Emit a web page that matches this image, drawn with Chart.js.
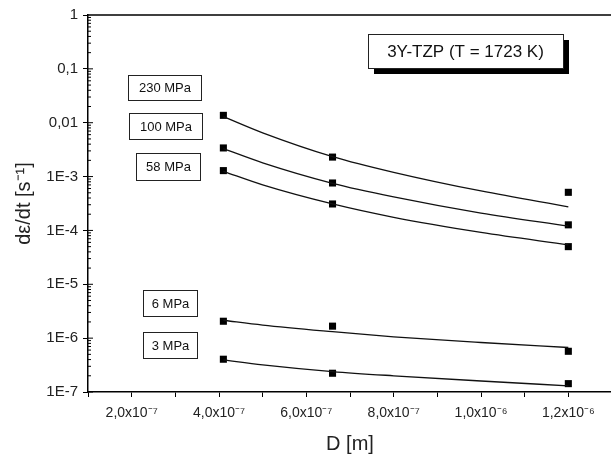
<!DOCTYPE html>
<html>
<head>
<meta charset="utf-8">
<script src="https://cdn.jsdelivr.net/npm/chart.js@4"></script>
<style>
body { margin: 0; overflow: hidden; background: #fff; }
#wrap { width: 620px; height: 456px; }
</style>
</head>
<body>
<div id="wrap"><canvas id="chart" width="620" height="456"></canvas></div>
<script>
// grain size D [m] of the measured points
const diameters = [4.1e-7, 6.6e-7, 1.2e-6];
// strain rates
const rate230 = [1.37e-2, 2.3e-3, 5.1e-4];
const rate100 = [3.4e-3, 7.6e-4, 1.27e-4];
const rate58 = [1.29e-3, 3.1e-4, 5.0e-5];
const rate6 = [2.06e-6, 1.67e-6, 5.7e-7];
const rate3 = [4.06e-7, 2.23e-7, 1.43e-7];

// fitted curves, read at a few grain sizes
const fitD = [4.1e-7, 5e-7, 6.6e-7, 8e-7, 1e-6, 1.2e-6];
const fit230 = [1.3e-2, 6.5e-3, 2.35e-3, 1.2e-3, 5.4e-4, 2.75e-4];
const fit100 = [3.3e-3, 1.8e-3, 7.5e-4, 4.2e-4, 2.1e-4, 1.2e-4];
const fit58 = [1.25e-3, 7.0e-4, 3.1e-4, 1.75e-4, 9.2e-5, 5.4e-5];
const fit6 = [2.15e-6, 1.75e-6, 1.32e-6, 1.06e-6, 8.3e-7, 6.7e-7];
const fit3 = [3.95e-7, 3.2e-7, 2.4e-7, 2.0e-7, 1.6e-7, 1.3e-7];

const stressLabels = ['230 MPa', '100 MPa', '58 MPa', '6 MPa', '3 MPa'];
const titleText = '3Y-TZP (T = 1723 K)';

const xTicks = [1e-7, 2e-7, 3e-7, 4e-7, 5e-7, 6e-7, 7e-7, 8e-7, 9e-7, 1e-6, 1.1e-6, 1.2e-6, 1.3e-6];
const xTickLabels = ['', '2,0x10\u207B\u2077', '', '4,0x10\u207B\u2077', '', '6,0x10\u207B\u2077', '',
  '8,0x10\u207B\u2077', '', '1,0x10\u207B\u2076', '', '1,2x10\u207B\u2076', ''];
const yTicks = [1e-7, 1e-6, 1e-5, 1e-4, 1e-3, 1e-2, 1e-1, 1];
const yTickLabels = ['1E-7', '1E-6', '1E-5', '1E-4', '1E-3', '0,01', '0,1', '1'];

// label boxes, pixel boxes [x, y, w, h]
const boxPos = [[128, 75, 73, 25], [129, 113, 73, 26], [136, 153, 64, 27], [143, 290, 54, 26], [143, 332, 54, 26]];

function pts(xs, ys) {
  return xs.map((x, i) => ({ x: x, y: ys[i] }));
}
function idx(arr, v) {
  return arr.findIndex(a => Math.abs(a - v) < Math.abs(v) * 1e-6);
}

const font = 'Liberation Sans, Arial, sans-serif';

const fits = [fit230, fit100, fit58, fit6, fit3].map(f => ({
  type: 'line', data: pts(fitD, f), borderColor: '#111', borderWidth: 1.3,
  pointRadius: 0, cubicInterpolationMode: 'monotone', fill: false
}));
const marks = [rate230, rate100, rate58, rate6, rate3].map(r => ({
  type: 'scatter', data: pts(diameters, r), backgroundColor: '#000', borderColor: '#000',
  pointStyle: 'rect', pointRadius: 5, borderWidth: 0, showLine: false
}));

const decor = {
  id: 'decor',
  afterDraw(chart) {
    const ctx = chart.ctx;
    const a = chart.chartArea;
    const y = chart.scales.y;
    ctx.save();
    // frame top and right
    ctx.strokeStyle = '#000';
    ctx.lineWidth = 1.5;
    ctx.beginPath();
    ctx.moveTo(a.left, a.top);
    ctx.lineTo(a.right, a.top);
    ctx.lineTo(a.right, a.bottom);
    ctx.stroke();
    // minor ticks inside on y
    ctx.lineWidth = 1;
    ctx.beginPath();
    for (let d = -7; d < 0; d++) {
      for (let m = 1; m <= 9; m++) {
        const py = y.getPixelForValue(m * Math.pow(10, d));
        const len = m === 1 ? 5 : 3;
        ctx.moveTo(a.left, py);
        ctx.lineTo(a.left + len, py);
      }
    }
    ctx.stroke();
    // stress label boxes
    ctx.font = '13px ' + font;
    ctx.textAlign = 'center';
    ctx.textBaseline = 'middle';
    stressLabels.forEach((t, i) => {
      const b = boxPos[i];
      ctx.fillStyle = '#fff';
      ctx.fillRect(b[0], b[1], b[2], b[3]);
      ctx.strokeStyle = '#222';
      ctx.lineWidth = 1;
      ctx.strokeRect(b[0] + 0.5, b[1] + 0.5, b[2], b[3]);
      ctx.fillStyle = '#111';
      ctx.fillText(t, b[0] + b[2] / 2 + 0.5, b[1] + b[3] / 2 + 1);
    });
    // title box with shadow
    const tb = [368, 34, 195, 34];
    ctx.fillStyle = '#000';
    ctx.fillRect(tb[0] + 6, tb[1] + 6, tb[2], tb[3]);
    ctx.fillStyle = '#fff';
    ctx.fillRect(tb[0], tb[1], tb[2], tb[3]);
    ctx.strokeStyle = '#222';
    ctx.strokeRect(tb[0] + 0.5, tb[1] + 0.5, tb[2], tb[3]);
    ctx.fillStyle = '#111';
    ctx.font = '17px ' + font;
    ctx.fillText(titleText, tb[0] + tb[2] / 2, tb[1] + tb[3] / 2 + 1);
    ctx.restore();
  }
};

new Chart(document.getElementById('chart').getContext('2d'), {
  data: { datasets: fits.concat(marks) },
  options: {
    responsive: false,
    animation: false,
    layout: { padding: { top: 15, right: 6, left: 0, bottom: 0 } },
    plugins: { legend: { display: false }, tooltip: { enabled: false } },
    scales: {
      x: {
        type: 'linear', min: 1e-7, max: 1.3e-6,
        afterBuildTicks: s => { s.ticks = xTicks.map(v => ({ value: v })); },
        afterFit: s => { s.height = 64; },
        border: { color: '#000', width: 1.5 },
        grid: { drawOnChartArea: false, tickLength: 5, tickColor: '#000' },
        ticks: {
          color: '#222', font: { family: font, size: 14 }, padding: 8, maxRotation: 0, autoSkip: false,
          callback: v => { const i = idx(xTicks, v); return i >= 0 ? xTickLabels[i] : ''; }
        },
        title: { display: true, text: 'D [m]', color: '#222', font: { family: font, size: 20 }, padding: { top: 4, bottom: 0 } }
      },
      y: {
        type: 'logarithmic', min: 1e-7, max: 1,
        afterBuildTicks: s => { s.ticks = yTicks.map(v => ({ value: v })); },
        afterFit: s => { s.width = 88; },
        border: { color: '#000', width: 1.5 },
        grid: { drawOnChartArea: false, tickLength: 5, tickColor: '#000' },
        ticks: {
          color: '#222', font: { family: font, size: 15 }, padding: 5, autoSkip: false,
          callback: v => { const i = idx(yTicks, v); return i >= 0 ? yTickLabels[i] : ''; }
        },
        title: { display: true, text: 'd\u03B5/dt [s\u207B\u00B9]', color: '#222', font: { family: font, size: 20 }, padding: { top: 12, bottom: 0 } }
      }
    }
  },
  plugins: [decor]
});
</script>
</body>
</html>
